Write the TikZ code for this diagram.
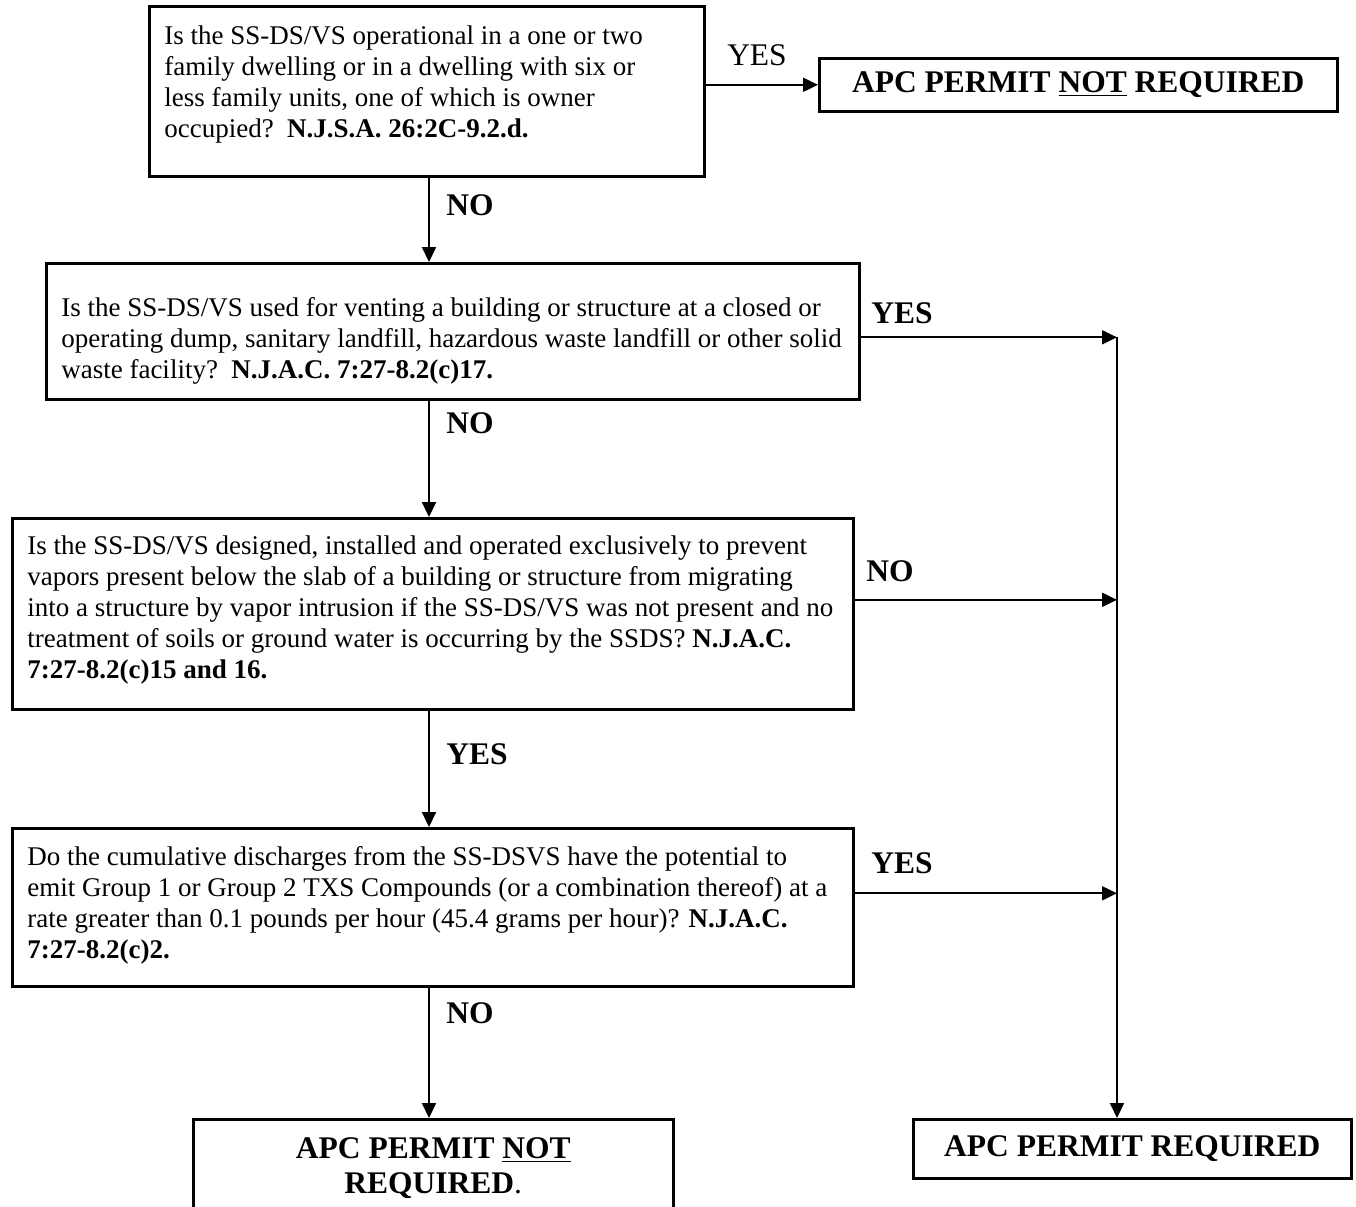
\documentclass[tikz,border=0pt]{standalone}
\usepackage{fontspec}
\setmainfont{Liberation Serif}
\usetikzlibrary{arrows.meta}

\newcommand{\qpar}[4][0pt]{\parbox[c][#3][t]{#2}{\raggedright\vspace*{#1}#4}}

\begin{document}
\begin{tikzpicture}[x=0.5pt,y=-0.5pt,
  >={Triangle[length=7.5pt,width=7pt]},
  every node/.style={font=\fontsize{13.5}{15.5}\selectfont},
  qbox/.style={draw,line width=1.3pt,anchor=north west,inner xsep=7.5pt,inner ysep=7pt},
  endbox/.style={draw,line width=1.3pt,anchor=north west,inner sep=0pt,
    font=\fontsize{15.75}{17.5}\selectfont\bfseries},
  lbl/.style={font=\fontsize{15.75}{18}\selectfont\bfseries},
  flow/.style={->,line width=1pt}]
  \useasboundingbox (0,0) rectangle (1356,1206);
  \coordinate (spine) at (429,0);
  \coordinate (rail) at (1117,0);

  % questions
  \node[qbox] (q1) at (148,5) {\qpar[2.5pt]{262.5pt}{71pt}{Is the SS-DS/VS operational in a one or two\\
    family dwelling or in a dwelling with six or\\
    less family units, one of which is owner\\
    occupied?~~\textbf{N.J.S.A. 26:2C-9.2.d.}}};
  \node[qbox] (q2) at (45,262) {\qpar[10pt]{391.5pt}{54pt}{Is the SS-DS/VS used for venting a building or structure at a closed or\\
    operating dump, sanitary landfill, hazardous waste landfill or other solid\\
    waste facility?~~\textbf{N.J.A.C. 7:27-8.2(c)17.}}};
  \node[qbox] (q3) at (11,517) {\qpar[1.5pt]{405.5pt}{81.5pt}{Is the SS-DS/VS designed, installed and operated exclusively to prevent\\
    vapors present below the slab of a building or structure from migrating\\
    into a structure by vapor intrusion if the SS-DS/VS was not present and no\\
    treatment of soils or ground water is occurring by the SSDS? \textbf{N.J.A.C.}\\
    \textbf{7:27-8.2(c)15 and 16.}}};
  \node[qbox] (q4) at (11,827) {\qpar[2pt]{405.5pt}{65pt}{Do the cumulative discharges from the SS-DSVS have the potential to\\
    emit Group 1 or Group 2 TXS Compounds (or a combination thereof) at a\\
    rate greater than 0.1 pounds per hour (45.4 grams per hour)? \textbf{N.J.A.C.}\\
    \textbf{7:27-8.2(c)2.}}};

  % outcomes
  \node[endbox,minimum width=259pt,minimum height=26.5pt] (r1) at (818,57)
    {APC PERMIT \underline{NOT} REQUIRED};
  \node[endbox,inner ysep=9pt] (r2) at (192,1118)
    {\parbox[c][50pt][t]{240pt}{\centering APC PERMIT \underline{NOT}\\REQUIRED{\mdseries .}}};
  \node[endbox,minimum width=219pt,minimum height=29.5pt] (r3) at (912,1118)
    {APC PERMIT REQUIRED};

  % labels
  \node[font=\fontsize{15.75}{18}\selectfont] (y1) at (757,55) {YES};
  \node[lbl] (n1) at (470,205) {NO};
  \node[lbl] (y2) at (902,313) {YES};
  \node[lbl] (n2) at (470,423) {NO};
  \node[lbl] (n3) at (890,571) {NO};
  \node[lbl] (y3) at (477,754) {YES};
  \node[lbl] (y4) at (902,863) {YES};
  \node[lbl] (n4) at (470,1013) {NO};

  % connectors
  \coordinate (j2) at ([yshift=-3pt]q2.east);
  \coordinate (j3) at ([yshift=7pt]q3.east);
  \coordinate (j4) at ([yshift=7pt]q4.east);
  \draw[flow] (q1.east |- r1.west) -- (r1.west);
  \draw[flow] (spine |- q1.south) -- (spine |- q2.north);
  \draw[flow] (spine |- q2.south) -- (spine |- q3.north);
  \draw[flow] (spine |- q3.south) -- (spine |- q4.north);
  \draw[flow] (spine |- q4.south) -- (spine |- r2.north);
  \draw[flow] (j2) -- (rail |- j2);
  \draw[flow] (j3) -- (rail |- j3);
  \draw[flow] (j4) -- (rail |- j4);
  \draw[flow] (rail |- j2) -- (rail |- r3.north);
\end{tikzpicture}
\end{document}
